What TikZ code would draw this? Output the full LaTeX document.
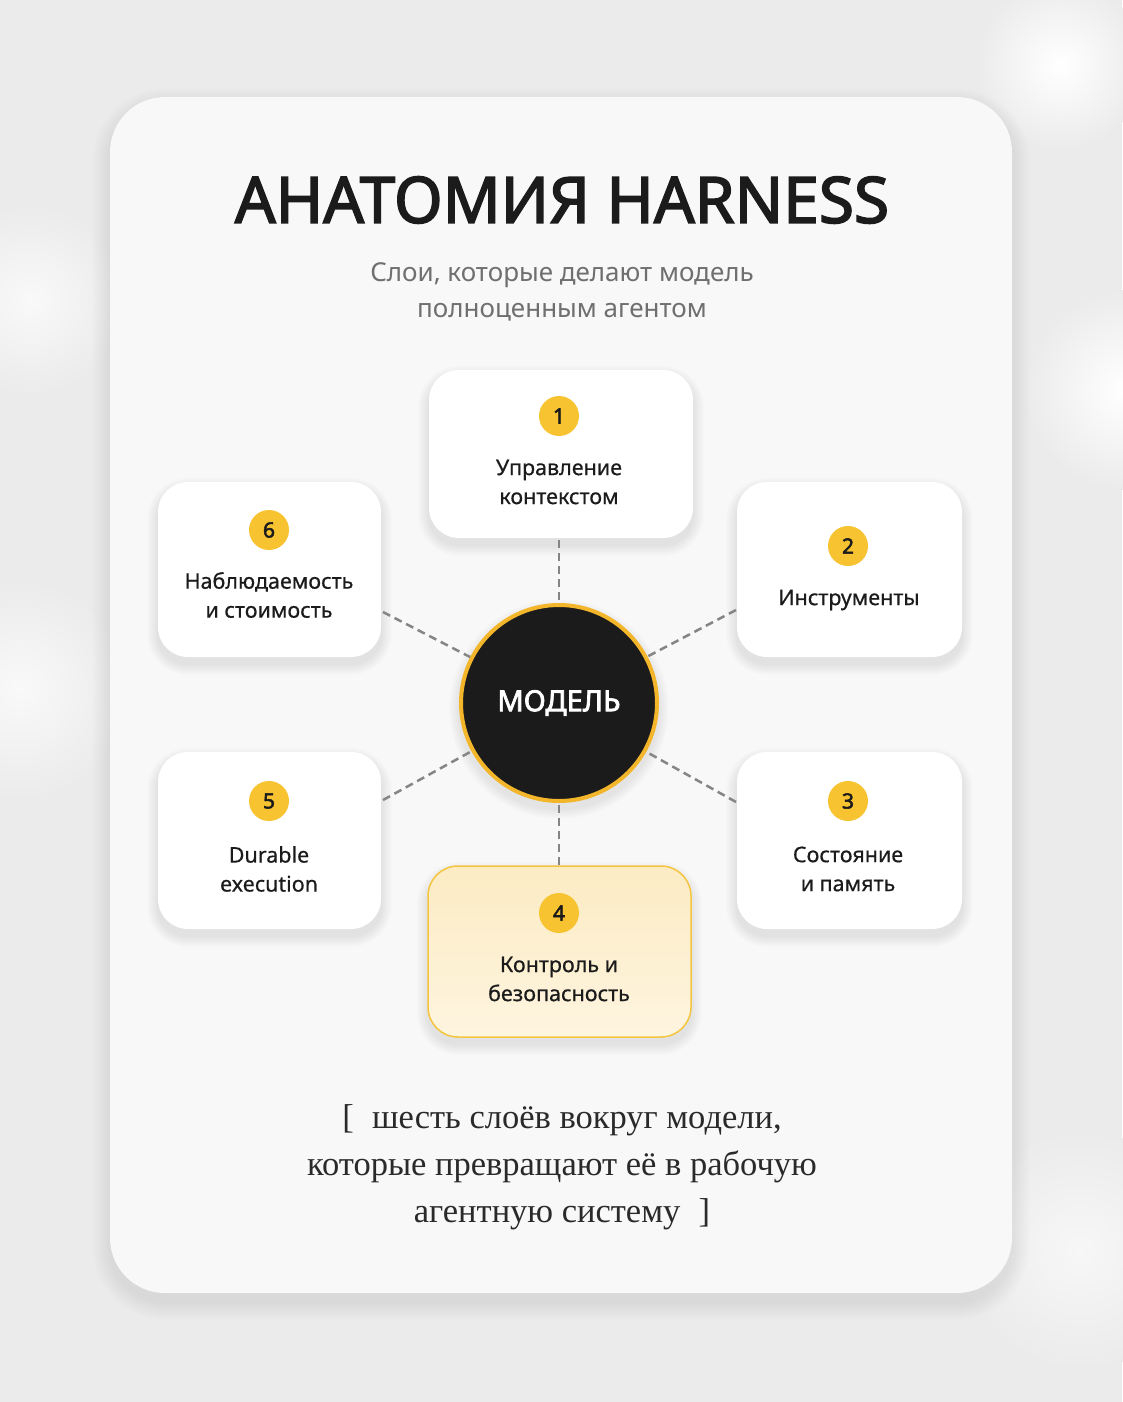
\documentclass[tikz,border=0pt]{standalone}
\usepackage{fontspec}
\setmainfont{Noto Sans}
\IfFontExistsTF{Noto Sans Bold}{\newfontfamily\bsans{Noto Sans Bold}}{%
  \IfFontExistsTF{NotoSans-Bold.ttf}{\newfontfamily\bsans{NotoSans-Bold.ttf}}{%
    \newfontfamily\bsans{Noto Sans}[FakeBold=2.5]}}
\newfontfamily\msans{Noto Sans}[FakeBold=0.5]
\newfontfamily\serifru{Liberation Serif}
\definecolor{bg}{HTML}{EBEBEB}
\definecolor{card}{HTML}{F8F8F8}
\definecolor{gold}{HTML}{F7C331}
\definecolor{ring}{HTML}{F3B62B}
\definecolor{ink}{HTML}{1B1B1B}
\definecolor{quoteink}{HTML}{2A2A2A}
\definecolor{subc}{HTML}{6F6F6F}
\definecolor{dashc}{HTML}{858585}
\definecolor{paleA}{HTML}{FCEBC3}
\definecolor{paleB}{HTML}{FEF5E0}
\definecolor{paleline}{HTML}{F5C53F}
% soft shadow: centre x, centre y, width, height, corner radius, drop, spread, layer opacity
\newcommand\softshade[8]{%
  \foreach \k in {1,...,#7}{%
    \fill[black, opacity=#8, rounded corners={(#5+\k)*1pt}]
      ({#1-#3/2-\k},{#2-#4/2-\k+#6}) rectangle ({#1+#3/2+\k},{#2+#4/2+\k+#6});}}
\begin{document}
\begin{tikzpicture}[x=1pt,y=-1pt,
  layerbox/.style={fill=white, rounded corners=30pt, inner sep=0pt},
  badge/.style={circle, fill=gold, minimum size=40pt, inner sep=0pt,
    font=\bsans\fontsize{21}{21}\selectfont, text=ink},
  lbl/.style={align=center, font=\msans\fontsize{21.5}{29}\selectfont, text=ink},
  link/.style={draw=dashc, line width=2.5pt, dash pattern=on 8pt off 5pt}]
\useasboundingbox (0,0) rectangle (1122,1402);
\fill[bg] (0,0) rectangle (1122,1402);
% soft background orbs
\shade[inner color=white, outer color=bg] (1060,65) circle (85pt);
\shade[inner color=white, outer color=bg] (1125,390) circle (100pt);
\shade[inner color=white!70!bg, outer color=bg] (30,300) circle (95pt);
\shade[inner color=white!70!bg, outer color=bg] (20,690) circle (110pt);
\shade[inner color=white!60!bg, outer color=bg] (1080,1250) circle (120pt);
% card
\softshade{561}{695}{902}{1196}{55}{9}{18}{0.005}
\node[fill=card, rounded corners=55pt, minimum width=902pt, minimum height=1196pt, inner sep=0pt]
  (card) at (561,695) {};
% title
\node[font=\bsans\fontsize{64}{64}\selectfont, text=ink] (title) at (562,200) {АНАТОМИЯ HARNESS};
\node[align=center, font=\fontsize{26}{36}\selectfont, text=subc] (subtitle) at (562,292)
  {Слои, которые делают модель\\полноценным агентом};
% box shadows
\softshade{561}{454}{264}{168}{30}{7}{11}{0.0065}
\softshade{849.5}{569.5}{225}{175}{30}{7}{11}{0.0065}
\softshade{849.5}{840.5}{225}{177}{30}{7}{11}{0.0065}
\softshade{559.5}{951.5}{263}{171}{30}{7}{11}{0.0065}
\softshade{269.5}{840.5}{223}{177}{30}{7}{11}{0.0065}
\softshade{269.5}{569.5}{223}{175}{30}{7}{11}{0.0065}
% boxes
\node[layerbox, minimum width=264pt, minimum height=168pt] (b1) at (561,454) {};
\node[layerbox, minimum width=225pt, minimum height=175pt] (b2) at (849.5,569.5) {};
\node[layerbox, minimum width=225pt, minimum height=177pt] (b3) at (849.5,840.5) {};
\node[layerbox, minimum width=263pt, minimum height=171pt, top color=paleA, bottom color=paleB,
  draw=paleline, line width=1.5pt] (b4) at (559.5,951.5) {};
\node[layerbox, minimum width=223pt, minimum height=177pt] (b5) at (269.5,840.5) {};
\node[layerbox, minimum width=223pt, minimum height=175pt] (b6) at (269.5,569.5) {};
% centre shadow
\foreach \k in {1,...,10}{\fill[black, opacity=0.009] (559,709) circle ({100+\k});}
\node[circle, fill=ink, draw=ring, line width=4pt, minimum size=196pt, inner sep=0pt,
  font=\bsans\fontsize{29}{29}\selectfont, text=white] (model) at (559,703) {МОДЕЛЬ};
% connector ends on boxes
\coordinate (c1) at (559,540);
\coordinate (c2) at (736,610);
\coordinate (c3) at (736,802);
\coordinate (c4) at (559,865);
\coordinate (c5) at (383,800);
\coordinate (c6) at (383,612);
\draw[link] (c1) -- (model);
\draw[link] (c2) -- (model);
\draw[link] (c3) -- (model);
\draw[link] (c4) -- (model);
\draw[link] (c5) -- (model);
\draw[link] (c6) -- (model);
% badges
\node[badge] (n1) at (559,416) {1};
\node[badge] (n2) at (848,546) {2};
\node[badge] (n3) at (848,801) {3};
\node[badge] (n4) at (559,913) {4};
\node[badge] (n5) at (269,801) {5};
\node[badge] (n6) at (269,530) {6};
% labels
\node[lbl] (t1) at (559,482) {Управление\\контекстом};
\node[lbl] (t2) at (849,600) {Инструменты};
\node[lbl] (t3) at (848,869) {Состояние\\и память};
\node[lbl] (t4) at (559,979) {Контроль и\\безопасность};
\node[lbl] (t5) at (269,869) {Durable\\execution};
\node[lbl] (t6) at (269,595) {Наблюдаемость\\и стоимость};
% closing quote
\node[align=center, font=\serifru\fontsize{34.5}{47}\selectfont, text=quoteink] (quote) at (562,1167)
  {[\; шесть слоёв вокруг модели,\\которые превращают её в рабочую\\агентную систему \;]};
\end{tikzpicture}
\end{document}
